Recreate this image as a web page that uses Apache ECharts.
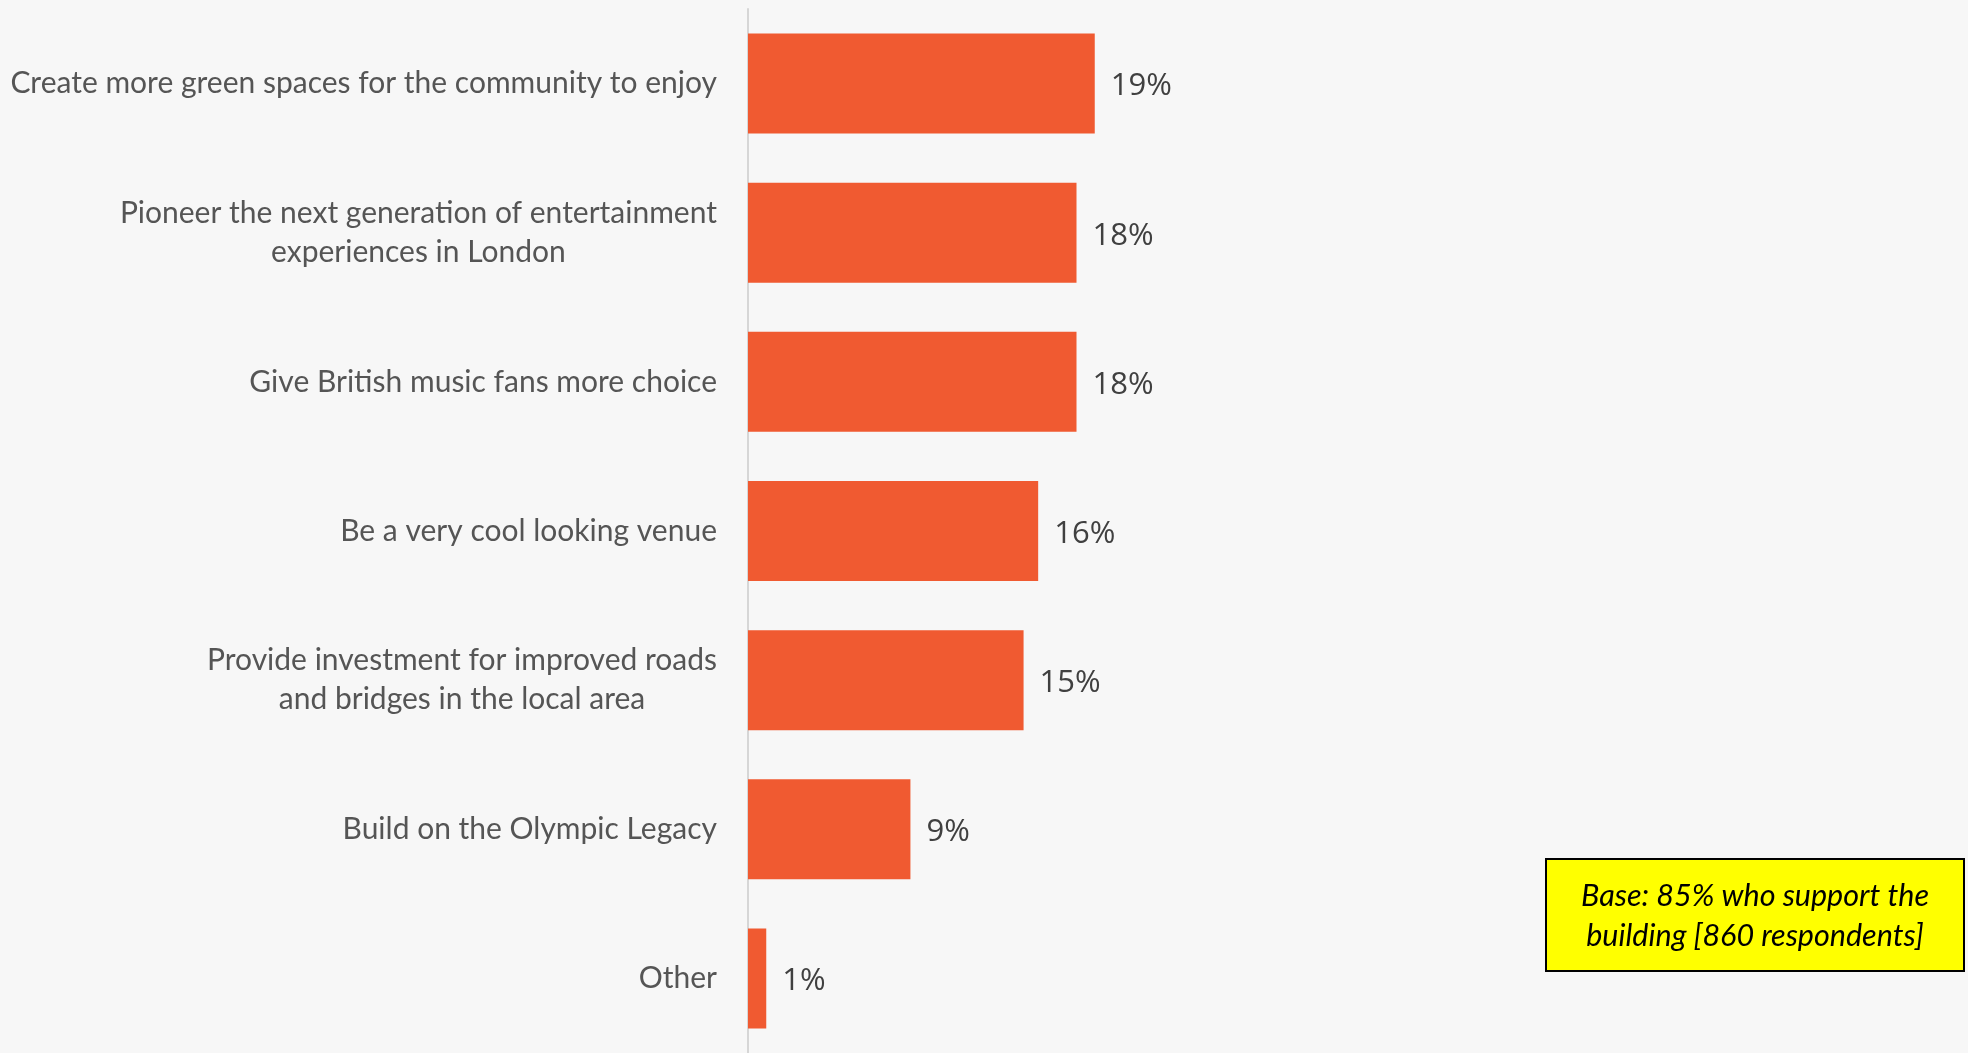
<!DOCTYPE html>
<html>
<head>
<meta charset="utf-8">
<script src="https://cdn.jsdelivr.net/npm/echarts@6/dist/echarts.min.js"></script>
<style>
  html, body { margin: 0; padding: 0; background: #f7f7f7; }
  #main { width: 1968px; height: 1053px; }
</style>
</head>
<body>
<div id="main"></div>
<script>
var categories = [
    'Create more green spaces for the community to enjoy',
    'Pioneer the next generation of entertainment\nexperiences in London',
    'Give British music fans more choice',
    'Be a very cool looking venue',
    'Provide investment for improved roads\nand bridges in the local area',
    'Build on the Olympic Legacy',
    'Other'
];
var values = [19, 18, 18, 15.9, 15.1, 8.9, 1];
var noteLines = ['Base: 85% who support the', 'building [860 respondents]'];

var myChart = echarts.init(document.getElementById('main'));

var option = {
    backgroundColor: '#f7f7f7',
    grid: {
        left: 748,
        width: 730,
        top: 9,
        bottom: -3
    },
    xAxis: {
        type: 'value',
        min: 0,
        max: 40,
        show: false
    },
    yAxis: {
        type: 'category',
        inverse: true,
        data: categories,
        axisLine: { show: true, lineStyle: { color: '#d6d6d6', width: 2 } },
        axisTick: { show: false },
        axisLabel: {
            margin: 31,
            align: 'right',
            formatter: function (v) {
                // centre each line of a wrapped label
                return v.split('\n').map(function (s) { return '{c|' + s + '}'; }).join('\n');
            },
            rich: {
                c: {
                    align: 'center',
                    fontFamily: 'Lato',
                    fontSize: 30,
                    color: '#555555',
                    lineHeight: 39
                }
            }
        }
    },
    series: [
        {
            type: 'bar',
            data: values,
            barWidth: 100,
            itemStyle: { color: '#f05a31' },
            label: {
                show: true,
                position: 'right',
                distance: 16,
                offset: [0, 3],
                fontFamily: 'Open Sans',
                fontSize: 31,
                color: '#404040',
                formatter: function (p) { return Math.round(p.value) + '%'; }
            }
        }
    ],
    graphic: [
        {
            type: 'group',
            left: 1545,
            top: 858,
            children: [
                {
                    type: 'rect',
                    shape: { x: 0, y: 0, width: 418, height: 112 },
                    style: { fill: '#ffff00', stroke: '#000000', lineWidth: 2 }
                },
                {
                    type: 'text',
                    x: 209,
                    y: 57,
                    style: {
                        text: noteLines.join('\n'),
                        align: 'center',
                        verticalAlign: 'middle',
                        fontFamily: 'Lato',
                        fontStyle: 'italic',
                        fontSize: 30.5,
                        lineHeight: 40,
                        fill: '#000000'
                    }
                }
            ]
        }
    ]
};

myChart.setOption(option);
</script>
</body>
</html>
